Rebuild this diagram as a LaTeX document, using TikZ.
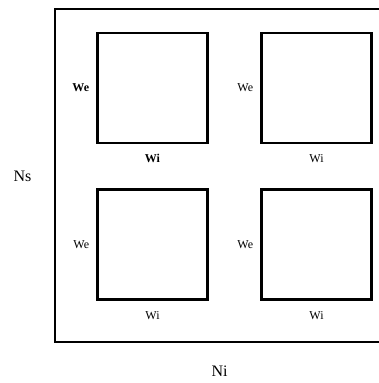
\documentclass[tikz,border=0pt]{standalone}
\usepackage{fontspec}
\setmainfont{Liberation Serif}
\begin{document}
\begin{tikzpicture}[x=1pt,y=-1pt,
  cell/.style={draw=black,line width=2.4pt,minimum width=110pt,minimum height=110pt,inner sep=0pt},
  outer/.style={draw=black,line width=2pt},
  lbl/.style={font=\fontsize{12}{14}\selectfont,inner sep=0pt},
  big/.style={font=\fontsize{16}{18}\selectfont,inner sep=0pt}]
\useasboundingbox (0,0) rectangle (379,383);
\clip (0,0) rectangle (379,383);
\draw[outer] (55,9) rectangle (390,342);
\node[cell] (c11) at (152.5,88) {};
\node[cell] (c12) at (316.5,88) {};
\node[cell] (c21) at (152.5,244.5) {};
\node[cell] (c22) at (316.5,244.5) {};
\node[lbl,anchor=east,font=\fontsize{12}{14}\selectfont\bfseries] (we11) at ([xshift=-7pt]c11.west) {We};
\node[lbl,font=\fontsize{12}{14}\selectfont\bfseries] (wi11) at ([yshift=-14.5pt]c11.south) {Wi};
\node[lbl,anchor=east] (we12) at ([xshift=-7pt]c12.west) {We};
\node[lbl] (wi12) at ([yshift=-14.5pt]c12.south) {Wi};
\node[lbl,anchor=east] (we21) at ([xshift=-7pt]c21.west) {We};
\node[lbl] (wi21) at ([yshift=-14.5pt]c21.south) {Wi};
\node[lbl,anchor=east] (we22) at ([xshift=-7pt]c22.west) {We};
\node[lbl] (wi22) at ([yshift=-14.5pt]c22.south) {Wi};
\node[big] (ns) at (22.5,176) {Ns};
\node[big] (ni) at (219.5,371) {Ni};
\end{tikzpicture}
\end{document}
